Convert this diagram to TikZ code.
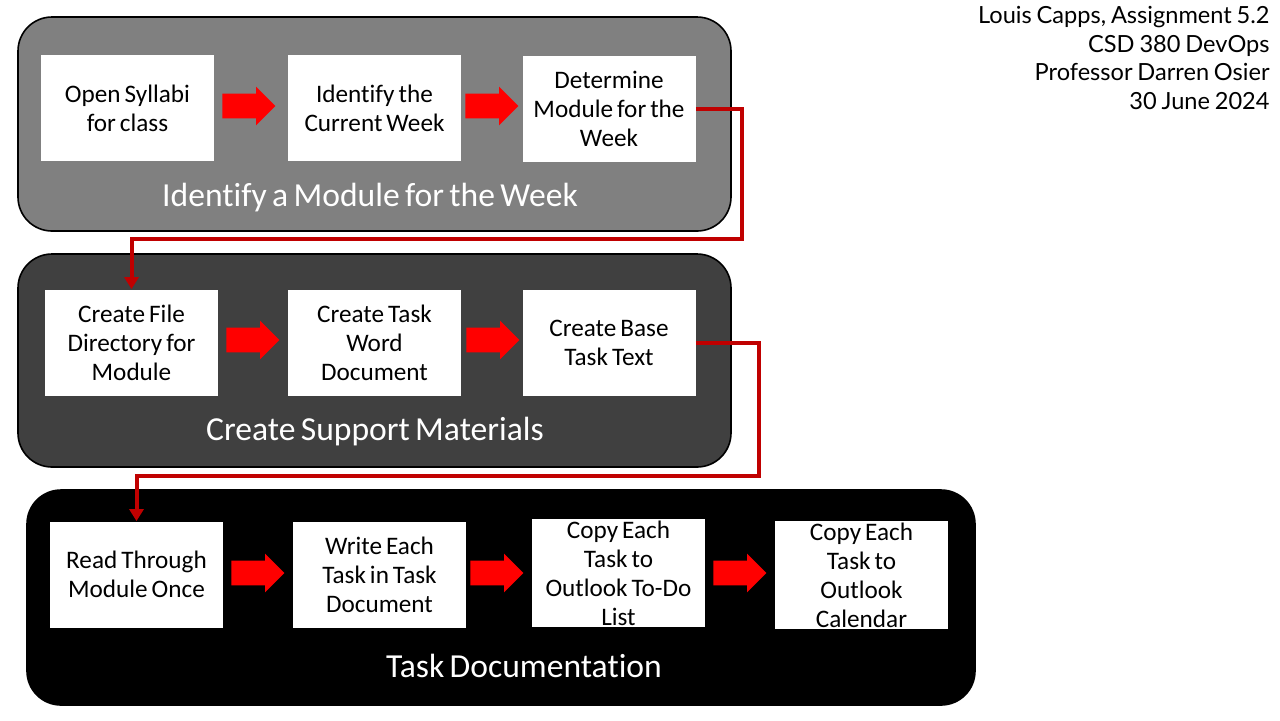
\documentclass[tikz,border=0pt]{standalone}
\usepackage{fontspec}
\setmainfont{Carlito}[WordSpace=0.7, RawFeature=-liga]
\newfontfamily\headfont{Lato}[WordSpace=0.8]
\usetikzlibrary{shapes.arrows,arrows.meta,calc}

\definecolor{linkred}{HTML}{C00000}
\definecolor{groupgray}{HTML}{808080}
\definecolor{groupdark}{HTML}{404040}

\tikzset{
	taskbox/.style={fill=white, text width=84pt, align=flush center, minimum width=86.5pt,
		minimum height=53pt, inner sep=1pt, font=\fontsize{12.6}{14.5}\selectfont},
	groupbox/.style={draw=black, line width=0.8pt, rounded corners=17pt},
	grouptitle/.style={text=white, font=\fontsize{16.8}{19}\selectfont},
	blockarrow/.style={single arrow, fill=red, inner xsep=0pt, inner ysep=6pt,
		minimum height=26.5pt, single arrow head extend=3.5pt, anchor=tail},
	link/.style={draw=linkred, line width=2pt, -{Triangle[width=7pt,length=6pt]}},
}

\begin{document}
\begin{tikzpicture}[x=0.5pt, y=-0.5pt]
	\fill[white] (0,0) rectangle (1280,720);

	% header
	\node[anchor=north east, align=right, inner sep=0pt, font=\headfont\fontsize{11.8}{14.25}\selectfont] (head) at (1270,6)
		{Louis Capps, Assignment 5.2\\CSD 380 DevOps\\Professor Darren Osier\\30 June 2024};

	% groups
	\draw[groupbox, fill=groupgray] (18,17) rectangle (731,231);
	\draw[groupbox, fill=groupdark] (18,254) rectangle (731,467);
	\draw[groupbox, fill=black] (27,490) rectangle (975,705);

	\node[grouptitle] (t1) at (370,198) {Identify a Module for the Week};
	\node[grouptitle] (t2) at (375,432) {Create Support Materials};
	\node[grouptitle] (t3) at (524,666) {Task Documentation};

	% first row
	\node[taskbox] (a1) at (127.5,108) {Open Syllabi\\for class};
	\node[taskbox] (a2) at (374.5,108) {Identify the\\Current Week};
	\node[taskbox] (a3) at (609,108.5) {Determine\\Module for the\\Week};

	% second row
	\node[taskbox] (b1) at (131.5,342.5) {Create File\\Directory for\\Module};
	\node[taskbox] (b2) at (374.5,342.5) {Create Task\\Word\\Document};
	\node[taskbox] (b3) at (609,343) {Create Base\\Task Text};

	% third row
	\node[taskbox] (c1) at (136.5,574.5) {Read Through\\Module Once};
	\node[taskbox] (c2) at (379.5,574.5) {Write Each\\Task in Task\\Document};
	\node[taskbox] (c3) at (618.5,573) {Copy Each\\Task to\\Outlook To-Do\\List};
	\node[taskbox] (c4) at (861.5,575) {Copy Each\\Task to\\Outlook\\Calendar};

	% block arrows
	\node[blockarrow] (a1a2) at (222,106) {};
	\node[blockarrow] (a2a3) at (465,106) {};
	\node[blockarrow] (b1b2) at (226,340) {};
	\node[blockarrow] (b2b3) at (466,340) {};
	\node[blockarrow] (c1c2) at (231,573) {};
	\node[blockarrow] (c2c3) at (470,573) {};
	\node[blockarrow] (c3c4) at (713,573) {};

	% links between groups
	\coordinate (bend1) at (742,239);
	\coordinate (bend2) at (759,476);
	\draw[link] (a3.east) -| (bend1) -| (b1.north);
	\draw[link] (b3.east) -| (bend2) -| (c1.north);
\end{tikzpicture}
\end{document}
